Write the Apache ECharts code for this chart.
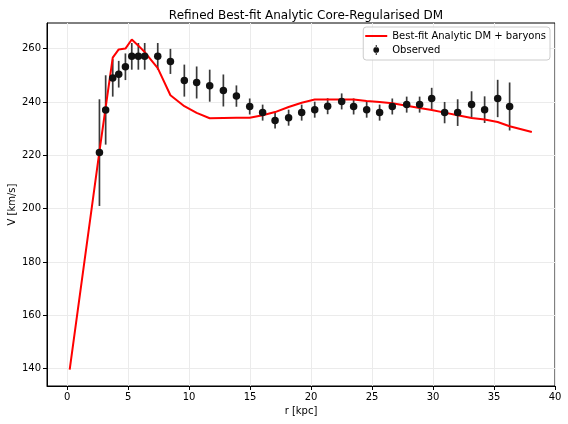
<!DOCTYPE html>
<html>
<head>
<meta charset="utf-8">
<script src="https://cdn.jsdelivr.net/npm/echarts@6/dist/echarts.min.js"></script>
<style>
    html, body { margin: 0; padding: 0; background: #fff; }
    #chart { width: 568px; height: 424px; }
</style>
</head>
<body>
<div id="chart"></div>
<script>
    // observed rotation curve
    var obsR = [2.65, 3.16, 3.74, 4.23, 4.78, 5.30, 5.84, 6.36, 7.43, 8.47, 9.61, 10.62,
        11.69, 12.81, 13.88, 14.97, 16.03, 17.05, 18.16, 19.23, 20.30, 21.36, 22.51, 23.49,
        24.56, 25.62, 26.66, 27.84, 28.90, 29.89, 30.95, 32.02, 33.16, 34.23, 35.30, 36.28];
    var obsV = [221.0, 237.0, 249.0, 250.4, 253.2, 257.1, 257.1, 257.1, 257.1, 255.2, 248.0, 247.3,
        246.1, 244.3, 242.2, 238.3, 236.0, 233.0, 234.1, 236.0, 237.1, 238.4, 240.2, 238.3,
        237.1, 236.0, 238.3, 239.0, 239.0, 241.3, 236.0, 236.0, 239.0, 237.1, 241.3, 238.3];
    var obsErr = [20, 13, 7, 5, 5, 5, 5, 5, 5, 4.7, 6, 6,
        6, 6, 4, 3, 3, 3, 3, 3, 3, 3, 3, 3,
        3, 3, 3, 3, 3, 4, 4, 5, 5, 5, 7, 9];

    // best-fit model curve
    var modelR = [0.21, 2.65, 3.16, 3.74, 4.23, 4.78, 5.30, 5.84, 6.36, 7.43, 8.47, 9.61, 10.62,
        11.69, 12.81, 13.88, 14.97, 16.03, 17.05, 18.16, 19.23, 20.30, 21.36, 22.51, 23.49,
        24.56, 25.62, 26.66, 27.84, 28.90, 29.89, 30.95, 32.02, 33.16, 34.23, 35.30, 36.28, 38.10];
    var modelV = [139.6, 221.5, 238.0, 256.6, 259.7, 260.0, 263.4, 261.1, 258.7, 252.7, 242.5, 238.4, 235.9,
        233.9, 234.0, 234.1, 234.1, 235.0, 236.2, 238.1, 239.7, 240.9, 240.9, 240.9, 240.9,
        240.4, 240.0, 239.5, 238.6, 237.7, 237.0, 236.0, 235.0, 234.0, 233.4, 232.5, 230.9, 228.7];

    var xTicks = [0, 5, 10, 15, 20, 25, 30, 35, 40];
    var yTicks = [140, 160, 180, 200, 220, 240, 260];

    var font = 'DejaVu Sans';
    var modelName = 'Best-fit Analytic DM + baryons';
    var obsName = 'Observed';

    var chart = echarts.init(document.getElementById('chart'), null, { renderer: 'canvas' });

    var errData = [];
    var pointData = [];
    for (var i = 0; i < obsR.length; i++) {
        errData.push([obsR[i], obsV[i] - obsErr[i], obsV[i] + obsErr[i]]);
        pointData.push([obsR[i], obsV[i]]);
    }
    var lineData = [];
    for (var j = 0; j < modelR.length; j++) {
        lineData.push([modelR[j], modelV[j]]);
    }

    var axisCommon = {
        type: 'value',
        axisLine: { show: true, onZero: false, lineStyle: { color: '#000', width: 1 } },
        axisTick: { show: true, length: 4, lineStyle: { color: '#000', width: 1 } },
        axisLabel: { color: '#000', fontFamily: font, fontSize: 10, margin: 6 },
        splitLine: { show: true, lineStyle: { color: '#ebebeb', width: 1 } },
        nameTextStyle: { color: '#000', fontFamily: font, fontSize: 10 }
    };

    var option = {
        animation: false,
        backgroundColor: '#fff',
        title: {
            text: 'Refined Best-fit Analytic Core-Regularised DM',
            left: 301,
            top: 5,
            textAlign: 'center',
            textStyle: { color: '#000', fontFamily: font, fontSize: 12, fontWeight: 'normal' }
        },
        grid: {
            left: 47, right: 13, top: 23, bottom: 38,
            outerBoundsMode: 'none',
            show: true, borderColor: '#000', borderWidth: 1, backgroundColor: 'transparent'
        },
        legend: {
            orient: 'vertical',
            right: 18,
            top: 27,
            padding: [4, 4, 5, 2],
            itemWidth: 22,
            itemHeight: 10,
            itemGap: 4,
            backgroundColor: 'rgba(255,255,255,0.8)',
            borderColor: '#cccccc',
            borderWidth: 1,
            borderRadius: 3,
            textStyle: { color: '#000', fontFamily: font, fontSize: 10 },
            data: [
                { name: modelName, icon: 'path://M0 0h22v2h-22z' },
                { name: obsName, icon: 'path://M3.4 0h1.2v3h-1.2z M3.4 9h1.2v3h-1.2z M0.5 6a3.5 3.5 0 1 0 7 0a3.5 3.5 0 1 0 -7 0z' }
            ]
        },
        xAxis: Object.assign({}, axisCommon, {
            min: -1.65,
            max: 40,
            interval: 5,
            name: 'r [kpc]',
            nameLocation: 'middle',
            nameGap: 20,
            axisTick: Object.assign({}, axisCommon.axisTick, { customValues: xTicks }),
            axisLabel: Object.assign({}, axisCommon.axisLabel, { customValues: xTicks })
        }),
        yAxis: Object.assign({}, axisCommon, {
            min: 133.5,
            max: 269.6,
            interval: 20,
            name: 'V [km/s]',
            nameLocation: 'middle',
            nameGap: 30,
            nameRotate: 90,
            nameMoveOverlap: false,
            axisTick: Object.assign({}, axisCommon.axisTick, { customValues: yTicks }),
            axisLabel: Object.assign({}, axisCommon.axisLabel, { customValues: yTicks })
        }),
        series: [
            {
                name: obsName + ' err',
                type: 'custom',
                silent: true,
                data: errData,
                encode: { x: 0, y: [1, 2] },
                renderItem: function (params, api) {
                    var lo = api.coord([api.value(0), api.value(1)]);
                    var hi = api.coord([api.value(0), api.value(2)]);
                    return {
                        type: 'line',
                        shape: { x1: lo[0], y1: lo[1], x2: hi[0], y2: hi[1] },
                        style: { stroke: '#3a3a3a', lineWidth: 1.7 }
                    };
                },
                z: 2
            },
            {
                name: modelName,
                type: 'line',
                data: lineData,
                symbol: 'none',
                lineStyle: { color: '#ff0000', width: 2 },
                itemStyle: { color: '#ff0000' },
                z: 3
            },
            {
                name: obsName,
                type: 'scatter',
                data: pointData,
                symbol: 'circle',
                symbolSize: 7.5,
                itemStyle: { color: '#111', opacity: 1 },
                z: 4
            }
        ]
    };

    chart.setOption(option);
</script>
</body>
</html>
